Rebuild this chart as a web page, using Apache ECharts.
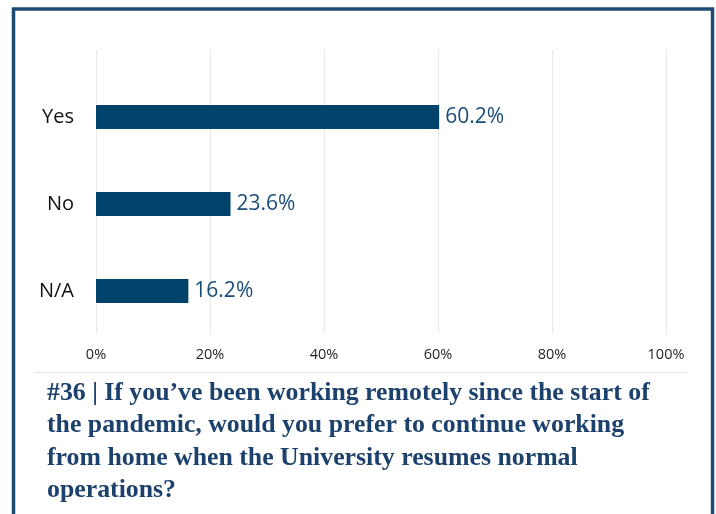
<!DOCTYPE html>
<html>
<head>
<meta charset="utf-8">
<script src="https://cdn.jsdelivr.net/npm/echarts@6/dist/echarts.min.js"></script>
<style>
html,body{margin:0;padding:0;background:#fff;}
#chart{width:716px;height:514px;}
</style>
</head>
<body>
<div id="chart"></div>
<script>
const categories = ['Yes', 'No', 'N/A'];
const values = [60.2, 23.6, 16.2];
const tickValues = [0, 20, 40, 60, 80, 100];
const titleLines = [
  '#36 | If you\u2019ve been working remotely since the start of',
  'the pandemic, would you prefer to continue working',
  'from home when the University resumes normal',
  'operations?'
];

const chart = echarts.init(document.getElementById('chart'), null, {renderer: 'canvas'});
const labelFont = '"Open Sans", "Noto Sans", sans-serif';
chart.setOption({
  animation: false,
  backgroundColor: '#ffffff',
  grid: [
    {left: 96, right: 50, top: 73.5, height: 261},
    {left: 96, right: 50, top: 50, height: 283}
  ],
  xAxis: [
    {
      gridIndex: 0, type: 'value', min: tickValues[0], max: tickValues[tickValues.length - 1], interval: 20,
      axisLine: {show: false}, axisTick: {show: false}, splitLine: {show: false},
      axisLabel: {formatter: '{value}%', fontFamily: labelFont, fontSize: 14.5, color: '#262626', margin: 13}
    },
    {
      gridIndex: 1, type: 'value', min: tickValues[0], max: tickValues[tickValues.length - 1], interval: 20,
      axisLine: {show: false}, axisTick: {show: false}, axisLabel: {show: false},
      splitLine: {show: true, lineStyle: {color: '#e8e8e8', width: 1}}
    }
  ],
  yAxis: [
    {
      gridIndex: 0, type: 'category', data: categories, inverse: true,
      axisLine: {show: false}, axisTick: {show: false}, splitLine: {show: false},
      axisLabel: {fontFamily: labelFont, fontSize: 20, color: '#111111', margin: 22}
    },
    {gridIndex: 1, type: 'category', data: categories, inverse: true, show: false}
  ],
  series: [{
    type: 'bar',
    xAxisIndex: 0, yAxisIndex: 0,
    data: values,
    barWidth: 24,
    itemStyle: {color: '#00426c'},
    label: {
      show: true, position: 'right', distance: 6,
      formatter: p => p.value.toFixed(1) + '%',
      fontFamily: labelFont, fontSize: 21, color: '#1b4d78'
    }
  }],
  graphic: [
    {
      type: 'rect', silent: true,
      shape: {x: 13.5, y: 9, width: 699, height: 540},
      style: {fill: 'none', stroke: '#1d4b75', lineWidth: 3.5}
    },
    {
      type: 'line', silent: true,
      shape: {x1: 34, y1: 372.5, x2: 687, y2: 372.5},
      style: {stroke: '#e6e6e6', lineWidth: 1}
    },
    {
      type: 'text', silent: true, left: 47, top: 377,
      style: {
        text: titleLines.join('\n'),
        font: 'bold 25.8px "Liberation Serif", serif',
        fill: '#1c416c',
        lineHeight: 32.5
      }
    }
  ]
});
</script>
</body>
</html>
